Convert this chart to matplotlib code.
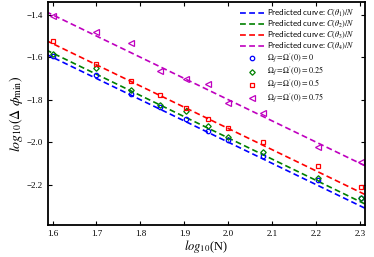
import numpy as np
import matplotlib
matplotlib.use("Agg")
import matplotlib.pyplot as plt

# N values and their measured log10(Delta phi_min)
N = np.array([40, 50, 60, 70, 80, 90, 100, 120, 160, 200])
omega_0 = [-1.594, -1.685, -1.775, -1.835, -1.893, -1.945, -1.992, -2.063, -2.176, -2.264]
omega_025 = [-1.583, -1.651, -1.753, -1.824, -1.855, -1.926, -1.976, -2.044, -2.170, -2.262]
omega_05 = [-1.525, -1.630, -1.712, -1.780, -1.838, -1.890, -1.934, -1.997, -2.113, -2.209]
omega_075 = [-1.404, -1.481, -1.531, -1.667, -1.704, -1.725, -1.816, -1.861, -2.024, -2.094]

# constants C(theta_k) of the predicted curves C/N
C = [1.0, 1.047, 1.16, 1.585]

cores = ['blue', 'green', 'red', 'm']
marcadores = ['o', 'D', 's', '<']
rotulos_pontos = [r"$\Omega_f=\Omega'(0)=0$", r"$\Omega_f=\Omega'(0)=0.25$",
                  r"$\Omega_f=\Omega'(0)=0.5$", r"$\Omega_f=\Omega'(0)=0.75$"]

plt.rcParams['mathtext.fontset'] = 'stix'
plt.rcParams['font.family'] = 'Liberation Serif'

fig = plt.figure(figsize=(3.74, 2.57), dpi=100)
ax = fig.add_axes([0.1275, 0.1245, 0.8485, 0.8675])

# curvas previstas
N_fino = np.logspace(1.585, 2.315, 200)
for k in range(4):
    ax.plot(np.log10(N_fino), np.log10(C[k] / N_fino), '--', color=cores[k], lw=1.2,
            dashes=(3.5, 2), label=r"Predicted curve: $C(\theta_%d)/N$" % (k + 1))

# pontos medidos
series = [omega_0, omega_025, omega_05, omega_075]
tamanhos = [3.2, 2.8, 3.2, 3.8]
for k in range(4):
    ax.plot(np.log10(N), series[k], linestyle='none', marker=marcadores[k],
            markersize=tamanhos[k], markerfacecolor='none', markeredgecolor=cores[k],
            markeredgewidth=0.9, label=rotulos_pontos[k])

ax.set_xlim(1.589, 2.311)
ax.set_ylim(-2.39, -1.34)
ax.set_xticks([1.6, 1.7, 1.8, 1.9, 2.0, 2.1, 2.2, 2.3])
ax.set_yticks([-2.2, -2.0, -1.8, -1.6, -1.4])
ax.tick_params(direction='in', top=True, right=True, labelsize=6.5, length=3, width=0.8)
for s in ax.spines.values():
    s.set_linewidth(1.3)

ax.set_xlabel(r"$log_{10}$(N)", fontsize=9, labelpad=0)
ax.set_ylabel(r"$log_{10}(\Delta\ \phi_{\rm min})$", fontsize=10, labelpad=1)

leg = ax.legend(loc='upper right', frameon=False, prop={'family': 'Lato', 'size': 5.8},
                labelspacing=0.0, handlelength=3.0, handletextpad=0.3,
                borderaxespad=0, handleheight=0.4, bbox_to_anchor=(0.975, 0.99))

fig.savefig('out.png', dpi=100)
